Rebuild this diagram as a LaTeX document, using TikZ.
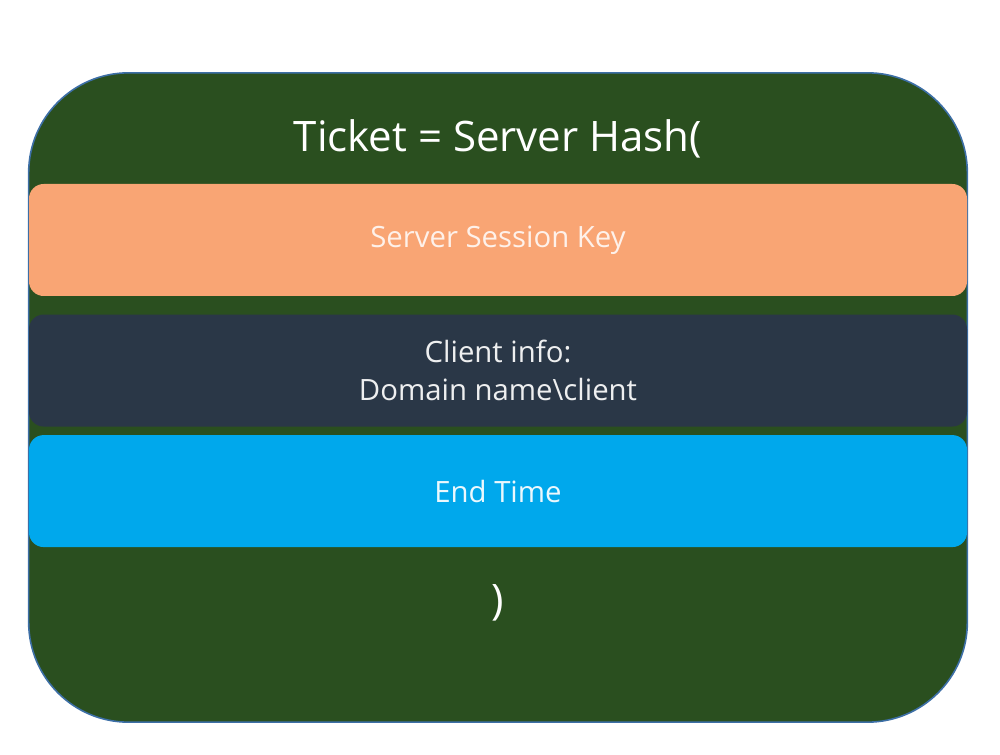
\documentclass[tikz,border=0pt]{standalone}
\usepackage{fontspec}
\setmainfont{Open Sans}
\usepackage{tikz}
\usetikzlibrary{positioning}
\definecolor{boardgreen}{HTML}{2A4F1F}
\definecolor{boardline}{HTML}{3D6FA6}
\definecolor{keyorange}{HTML}{F9A574}
\definecolor{infonavy}{HTML}{2A3747}
\definecolor{timeblue}{HTML}{00A8EC}
\tikzstyle{board} = [draw=boardline, line width=1.2pt, fill=boardgreen, rounded corners=75pt, minimum width=704pt, minimum height=487pt, inner sep=0pt]
\tikzstyle{field} = [rounded corners=11pt, minimum width=703.5pt, minimum height=84pt, inner sep=0pt, align=center, font=\fontsize{22}{28.5}\selectfont]
\tikzstyle{label} = [text=white, inner sep=0pt, font=\fontsize{31.5}{38}\selectfont]

\begin{document}
\begin{tikzpicture}[x=0.75pt, y=-0.75pt]
\useasboundingbox (0,0) rectangle (1000,755);

% frame ==================================
\node[board] (ticket) at (498,397.5) {};

% fields
\node[field, fill=keyorange, text=keyorange!15!white] (key) at (498,240) {Server Session Key};
\node[field, fill=infonavy, text=infonavy!8!white, below=13.5pt of key] (info) {Client info:\\Domain name\textbackslash client};
\node[field, fill=timeblue, text=timeblue!8!white, below=6pt of info] (time) {End Time};

% hash text
\node[label, above=19pt of key] (hash) {Ticket = Server Hash(};
\node[label, below=28pt of time] (close) {)};

\end{tikzpicture}
\end{document}
